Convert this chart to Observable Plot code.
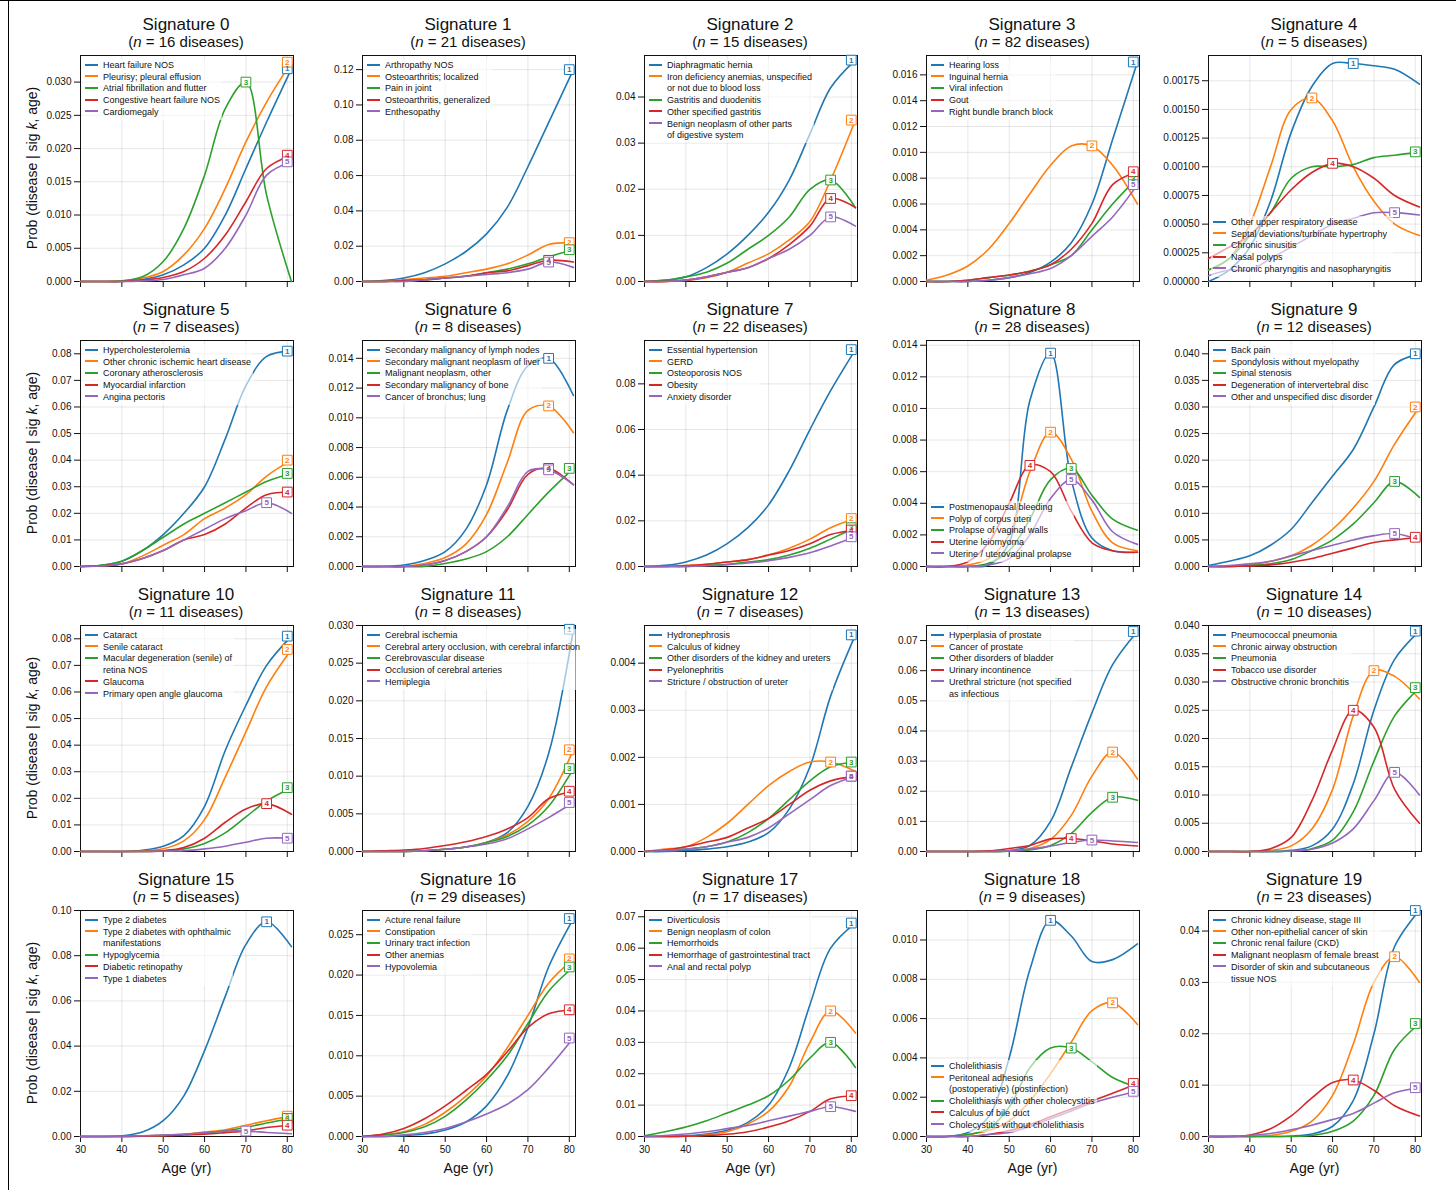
<!DOCTYPE html>
<html><head><meta charset="utf-8">
<script src="https://cdn.jsdelivr.net/npm/d3@7"></script>
<script src="https://cdn.jsdelivr.net/npm/@observablehq/plot@0.6"></script>
<style>
body{margin:0;background:#fff;font-family:"Liberation Sans",Arial,sans-serif;}
#root{position:relative;width:1456px;height:1196px;}
.t1{position:absolute;font-size:17px;text-align:center;width:260px;color:#111}
.t2{position:absolute;font-size:15px;text-align:center;width:260px;color:#111}
.lg{position:absolute;font-size:9px;line-height:11.7px;color:#111;background:rgba(255,255,255,0.6);white-space:pre;padding:1px 2px}
.lg span.sw{display:inline-block;width:13px;height:2px;margin-right:5px;vertical-align:middle;position:relative;top:-1px}
.yl{position:absolute;font-size:14px;transform:rotate(-90deg);transform-origin:center;width:240px;text-align:center;color:#111}
.xl{position:absolute;font-size:14px;width:213px;text-align:center;color:#111}
</style></head><body><div id="root"></div>
<script>
const ages=[30,35,40,45,50,55,60,65,70,75,81];
const colors=["#1f77b4","#ff7f0e","#2ca02c","#d62728","#9467bd"];
const nDiseases=[16,21,15,82,5,7,8,22,28,12,11,8,7,13,10,5,29,17,9,23];
const yMax=[0.034,0.128,0.049,0.0175,0.00197,0.085,0.0152,0.099,0.0143,0.0425,0.085,0.030,0.0048,0.075,0.040,0.100,0.028,0.072,0.0115,0.044];
const yStep=[0.005,0.02,0.01,0.002,0.00025,0.01,0.002,0.02,0.002,0.005,0.01,0.005,0.001,0.01,0.005,0.02,0.005,0.01,0.002,0.01];
const yDec=[3,2,2,3,5,2,3,2,3,3,2,3,3,2,3,2,3,2,3,2];
const legendBottom=[4,8,18];
const diseaseNames=[
["Heart failure NOS","Pleurisy; pleural effusion","Atrial fibrillation and flutter","Congestive heart failure NOS","Cardiomegaly"],
["Arthropathy NOS","Osteoarthritis; localized","Pain in joint","Osteoarthritis, generalized","Enthesopathy"],
["Diaphragmatic hernia","Iron deficiency anemias, unspecified\nor not due to blood loss","Gastritis and duodenitis","Other specified gastritis","Benign neoplasm of other parts\nof digestive system"],
["Hearing loss","Inguinal hernia","Viral infection","Gout","Right bundle branch block"],
["Other upper respiratory disease","Septal deviations/turbinate hypertrophy","Chronic sinusitis","Nasal polyps","Chronic pharyngitis and nasopharyngitis"],
["Hypercholesterolemia","Other chronic ischemic heart disease","Coronary atherosclerosis","Myocardial infarction","Angina pectoris"],
["Secondary malignancy of lymph nodes","Secondary malignant neoplasm of liver","Malignant neoplasm, other","Secondary malignancy of bone","Cancer of bronchus; lung"],
["Essential hypertension","GERD","Osteoporosis NOS","Obesity","Anxiety disorder"],
["Postmenopausal bleeding","Polyp of corpus uteri","Prolapse of vaginal walls","Uterine leiomyoma","Uterine / uterovaginal prolapse"],
["Back pain","Spondylosis without myelopathy","Spinal stenosis","Degeneration of intervertebral disc","Other and unspecified disc disorder"],
["Cataract","Senile cataract","Macular degeneration (senile) of\nretina NOS","Glaucoma","Primary open angle glaucoma"],
["Cerebral ischemia","Cerebral artery occlusion, with cerebral infarction","Cerebrovascular disease","Occlusion of cerebral arteries","Hemiplegia"],
["Hydronephrosis","Calculus of kidney","Other disorders of the kidney and ureters","Pyelonephritis","Stricture / obstruction of ureter"],
["Hyperplasia of prostate","Cancer of prostate","Other disorders of bladder","Urinary incontinence","Urethral stricture (not specified\nas infectious"],
["Pneumococcal pneumonia","Chronic airway obstruction","Pneumonia","Tobacco use disorder","Obstructive chronic bronchitis"],
["Type 2 diabetes","Type 2 diabetes with ophthalmic\nmanifestations","Hypoglycemia","Diabetic retinopathy","Type 1 diabetes"],
["Acture renal failure","Constipation","Urinary tract infection","Other anemias","Hypovolemia"],
["Diverticulosis","Benign neoplasm of colon","Hemorrhoids","Hemorrhage of gastrointestinal tract","Anal and rectal polyp"],
["Cholelithiasis","Peritoneal adhesions\n(postoperative) (postinfection)","Cholelithiasis with other cholecystitis","Calculus of bile duct","Cholecystitis without cholelithiasis"],
["Chronic kidney disease, stage III","Other non-epithelial cancer of skin","Chronic renal failure (CKD)","Malignant neoplasm of female breast","Disorder of skin and subcutaneous\ntissue NOS"]
];
const sigValues=[
[[0,0,0,0.0003,0.001,0.0025,0.005,0.010,0.017,0.024,0.032],[0,0,0.0001,0.0005,0.0015,0.004,0.008,0.014,0.021,0.027,0.033],[0,0,0.0001,0.0007,0.003,0.008,0.016,0.026,0.030,0.013,0.0],[0,0,0,0.0002,0.0006,0.0015,0.0035,0.007,0.012,0.017,0.019],[0,0,0,0.0001,0.0003,0.001,0.002,0.005,0.010,0.016,0.018]],
[[0,0.0005,0.002,0.005,0.01,0.017,0.027,0.042,0.065,0.09,0.12],[0,0,0.001,0.002,0.003,0.005,0.007,0.010,0.015,0.021,0.022],[0,0,0.0005,0.001,0.002,0.003,0.005,0.007,0.010,0.014,0.018],[0,0,0.0005,0.001,0.002,0.003,0.005,0.006,0.009,0.012,0.011],[0,0,0,0.001,0.002,0.003,0.004,0.005,0.007,0.011,0.008]],
[[0,0.0003,0.001,0.003,0.006,0.010,0.015,0.022,0.032,0.042,0.048],[0,0,0.0002,0.0008,0.002,0.004,0.006,0.009,0.013,0.022,0.035],[0,0.0002,0.001,0.002,0.004,0.007,0.010,0.014,0.020,0.022,0.016],[0,0,0.0003,0.001,0.002,0.003,0.005,0.008,0.012,0.018,0.016],[0,0,0.0003,0.001,0.002,0.003,0.005,0.007,0.010,0.014,0.012]],
[[0,0,0,0.0001,0.0003,0.0007,0.0015,0.003,0.006,0.011,0.017],[0.0001,0.0005,0.0012,0.0025,0.0045,0.0068,0.009,0.0105,0.0105,0.009,0.006],[0,0,0.0001,0.0003,0.0005,0.0008,0.0013,0.002,0.004,0.006,0.008],[0,0,0.0001,0.0003,0.0005,0.0008,0.0013,0.0025,0.0045,0.0075,0.0085],[0,0,0,0.0001,0.0003,0.0006,0.001,0.002,0.0035,0.005,0.0075]],
[[0,0.0001,0.0003,0.0007,0.0013,0.0017,0.0019,0.0019,0.00188,0.00185,0.00172],[0.0001,0.0002,0.0005,0.0010,0.0015,0.0016,0.0014,0.0010,0.0007,0.0005,0.0004],[0.0001,0.0002,0.0004,0.0006,0.0009,0.001,0.001,0.00102,0.00108,0.0011,0.00113],[0.0002,0.0003,0.0004,0.0006,0.0008,0.00095,0.00103,0.001,0.0009,0.00075,0.00065],[0.00005,0.0001,0.0001,0.0002,0.0003,0.0004,0.0005,0.00055,0.0006,0.0006,0.00058]],
[[0,0.0005,0.002,0.006,0.012,0.02,0.030,0.048,0.068,0.079,0.081],[0,0.0003,0.001,0.004,0.008,0.012,0.018,0.022,0.027,0.034,0.040],[0,0.0005,0.002,0.006,0.011,0.016,0.020,0.024,0.028,0.032,0.035],[0,0.0003,0.001,0.003,0.006,0.010,0.012,0.016,0.022,0.027,0.028],[0,0.0002,0.001,0.003,0.006,0.010,0.014,0.018,0.021,0.024,0.020]],
[[0,0,0.0001,0.0004,0.001,0.0025,0.0055,0.0105,0.0135,0.014,0.0115],[0,0,0,0.0002,0.0006,0.0015,0.0035,0.007,0.0105,0.0108,0.009],[0,0,0,0,0.0002,0.0005,0.001,0.002,0.0035,0.005,0.0066],[0,0,0,0.0001,0.0004,0.001,0.002,0.0038,0.0062,0.0066,0.0055],[0,0,0,0.0001,0.0004,0.001,0.002,0.004,0.0064,0.0065,0.0055]],
[[0,0.0005,0.002,0.005,0.01,0.017,0.027,0.042,0.06,0.077,0.095],[0,0,0.0005,0.001,0.002,0.003,0.005,0.008,0.012,0.017,0.021],[0,0,0,0.0005,0.001,0.002,0.003,0.005,0.008,0.012,0.017],[0,0,0.0003,0.001,0.002,0.003,0.005,0.007,0.010,0.014,0.016],[0,0,0,0.0003,0.0008,0.0015,0.0025,0.004,0.006,0.009,0.013]],
[[0,0,0,0.0001,0.0015,0.0105,0.0135,0.0055,0.0018,0.001,0.0009],[0,0,0.0001,0.0005,0.002,0.006,0.0085,0.0068,0.0035,0.0015,0.001],[0,0,0,0.0002,0.001,0.003,0.0055,0.0062,0.0045,0.0030,0.0023],[0,0,0.0003,0.0015,0.004,0.0064,0.006,0.0035,0.0015,0.001,0.0009],[0,0,0,0.0001,0.0005,0.002,0.0043,0.0055,0.0042,0.0022,0.0014]],
[[0.0002,0.001,0.002,0.004,0.007,0.012,0.017,0.022,0.030,0.038,0.040],[0,0,0.0003,0.001,0.002,0.004,0.007,0.011,0.016,0.023,0.030],[0,0,0.0002,0.0005,0.0013,0.003,0.005,0.008,0.012,0.016,0.013],[0,0,0.0001,0.0003,0.0008,0.0015,0.0025,0.0035,0.0045,0.005,0.0055],[0,0.0002,0.0005,0.001,0.002,0.003,0.004,0.005,0.0058,0.0062,0.005]],
[[0,0,0,0.0005,0.002,0.006,0.017,0.038,0.055,0.07,0.081],[0,0,0,0.0002,0.001,0.004,0.012,0.028,0.045,0.062,0.076],[0,0,0,0,0.0003,0.001,0.003,0.007,0.013,0.019,0.024],[0,0,0,0,0.0003,0.0015,0.005,0.011,0.016,0.018,0.014],[0,0,0,0,0.0001,0.0003,0.001,0.002,0.0035,0.005,0.005]],
[[0,0,0,0.0001,0.0003,0.0006,0.0012,0.0025,0.006,0.013,0.0295],[0,0,0,0.0001,0.0003,0.0006,0.0012,0.0022,0.004,0.007,0.0135],[0,0,0,0.0001,0.0003,0.0006,0.0012,0.002,0.0035,0.006,0.011],[0,0.0001,0.0002,0.0004,0.0008,0.0013,0.002,0.003,0.0045,0.007,0.008],[0,0,0,0.0001,0.0003,0.0006,0.001,0.0017,0.003,0.0045,0.0065]],
[[0,0,0.00002,0.00005,0.0001,0.0002,0.0004,0.0009,0.0018,0.0033,0.0046],[0,0.00005,0.0001,0.0003,0.0006,0.001,0.0014,0.0017,0.0019,0.0019,0.0017],[0,0.00002,0.00005,0.0001,0.0002,0.0004,0.0007,0.0011,0.0015,0.0018,0.0019],[0,0.00003,0.0001,0.0002,0.0003,0.0005,0.0007,0.001,0.0013,0.0015,0.0016],[0,0.00002,0.00005,0.0001,0.0002,0.0003,0.0005,0.0008,0.0011,0.0014,0.0016]],
[[0,0,0,0,0.0003,0.002,0.01,0.028,0.046,0.062,0.073],[0,0,0,0,0.0002,0.001,0.004,0.012,0.025,0.033,0.024],[0,0,0,0,0.0001,0.0005,0.002,0.006,0.013,0.018,0.017],[0,0,0,0.0002,0.001,0.002,0.0042,0.0043,0.0035,0.0025,0.0018],[0,0,0,0,0.0002,0.0008,0.0018,0.003,0.0038,0.0035,0.003]],
[[0,0,0,0,0.0002,0.001,0.004,0.012,0.025,0.034,0.039],[0,0,0,0.0002,0.001,0.004,0.011,0.024,0.032,0.031,0.027],[0,0,0,0,0.0001,0.0005,0.002,0.007,0.016,0.024,0.029],[0,0,0,0.0005,0.0025,0.009,0.018,0.025,0.022,0.011,0.005],[0,0,0,0,0.0001,0.0004,0.0015,0.004,0.009,0.014,0.010]],
[[0,0,0.0003,0.002,0.007,0.018,0.038,0.062,0.085,0.095,0.084],[0,0,0,0.0002,0.0005,0.001,0.002,0.003,0.005,0.007,0.009],[0,0,0,0.0002,0.0005,0.001,0.0015,0.0025,0.004,0.006,0.008],[0,0,0,0.0001,0.0003,0.0007,0.001,0.0017,0.0025,0.004,0.005],[0,0,0.0001,0.0003,0.0006,0.001,0.0017,0.0024,0.0024,0.0018,0.0012]],
[[0,0,0.0001,0.0003,0.0008,0.0018,0.0038,0.0075,0.0135,0.021,0.027],[0,0.0002,0.0006,0.0015,0.003,0.005,0.0075,0.011,0.015,0.019,0.022],[0,0.0002,0.0005,0.0012,0.0025,0.0045,0.007,0.010,0.014,0.018,0.021],[0,0.0003,0.001,0.0022,0.0038,0.0057,0.0077,0.0105,0.0135,0.0152,0.0157],[0,0,0.0002,0.0005,0.001,0.0018,0.0028,0.004,0.0058,0.0085,0.0122]],
[[0,0,0.0002,0.0008,0.002,0.0045,0.01,0.022,0.042,0.06,0.068],[0,0,0.0001,0.0005,0.0015,0.004,0.008,0.016,0.03,0.04,0.033],[0.0002,0.0015,0.003,0.005,0.0075,0.01,0.013,0.018,0.025,0.03,0.022],[0,0,0.0001,0.0003,0.0007,0.0015,0.003,0.005,0.008,0.012,0.013],[0,0.0003,0.0008,0.0015,0.0025,0.0035,0.005,0.0065,0.008,0.0095,0.008]],
[[0,0,0.0002,0.001,0.004,0.0085,0.011,0.0102,0.0089,0.009,0.0098],[0,0,0.0001,0.0003,0.0008,0.0018,0.0032,0.0048,0.0064,0.0068,0.0057],[0,0,0.0001,0.0004,0.0015,0.0035,0.0045,0.0045,0.0038,0.003,0.0025],[0,0,0,0.0001,0.0003,0.0006,0.001,0.0014,0.0018,0.0022,0.0027],[0,0,0,0.0001,0.0002,0.0005,0.0009,0.0013,0.0017,0.002,0.0023]],
[[0,0,0,0,0.0001,0.0005,0.002,0.007,0.02,0.037,0.044],[0,0,0,0.0002,0.001,0.003,0.008,0.018,0.03,0.035,0.03],[0,0,0,0,0,0.0002,0.001,0.003,0.008,0.017,0.022],[0,0,0.0003,0.0015,0.004,0.0075,0.0105,0.011,0.009,0.006,0.004],[0,0,0.0002,0.0006,0.0013,0.0022,0.0033,0.0045,0.0065,0.0085,0.0095]]
];
const xTicks=[30,40,50,60,70,80];

const root=document.getElementById("root");
function add(cls,html,left,top){const d=document.createElement("div");d.className=cls;d.innerHTML=html;d.style.left=left+"px";d.style.top=top+"px";root.appendChild(d);return d;}
const vl=document.createElement("div");vl.style.cssText="position:absolute;left:8px;top:0;width:1px;height:1190px;background:#000";root.appendChild(vl);
const hl=document.createElement("div");hl.style.cssText="position:absolute;left:0;top:0;width:1456px;height:1px;background:#000";root.appendChild(hl);

for(let k=0;k<20;k++){
  const c=k%5,r=Math.floor(k/5);
  const pl=80+282*c, pt=55+285*r;
  const rows=[];
  const labels=[];
  sigValues[k].forEach((vals,s)=>{
    let mi=0;
    vals.forEach((v,i)=>{rows.push({age:ages[i],p:v,s});if(v>=vals[mi])mi=i;});
    labels.push({age:Math.min(ages[mi],80),p:vals[mi],s,t:String(s+1)});
  });
  const ticks=d3.range(0,yMax[k]+1e-12,yStep[k]);
  const svg=Plot.plot({
    width:275,height:256,marginLeft:48,marginRight:14,marginTop:5,marginBottom:25,
    style:{fontSize:"10px",fontFamily:"Liberation Sans, Arial, sans-serif",color:"#111",background:"transparent"},
    x:{domain:[30,81.5],ticks:xTicks,label:null,grid:true,tickFormat:r===3?(d=>d):(()=>"")},
    y:{domain:[0,yMax[k]],ticks,label:null,grid:true,tickFormat:d3.format(`.${yDec[k]}f`)},
    marks:[
      Plot.frame({stroke:"#111"}),
      Plot.line(rows,{x:"age",y:"p",z:"s",stroke:d=>colors[d.s],strokeWidth:1.6,curve:"catmull-rom"}),
      Plot.dot(labels,{x:"age",y:"p",symbol:"square",r:5.5,fill:"white",stroke:d=>colors[d.s],strokeWidth:1}),
      Plot.text(labels,{x:"age",y:"p",text:"t",fill:d=>colors[d.s],fontSize:8,fontWeight:"bold"})
    ]
  });
  svg.style.position="absolute";svg.style.left=(pl-48)+"px";svg.style.top=(pt-5)+"px";
  root.appendChild(svg);
  add("t1","Signature "+k,pl+106-130,pt-40);
  add("t2","(<i>n</i> = "+nDiseases[k]+" diseases)",pl+106-130,pt-22);
  const lgHtml=diseaseNames[k].map((n,s)=>{
    const parts=n.split("\n");
    return `<span class="sw" style="background:${colors[s]}"></span>`+parts[0]+(parts[1]?"\n<span style='display:inline-block;width:18px'></span>"+parts[1]:"");
  }).join("\n");
  const lg=add("lg",lgHtml,pl+3,pt+4);
  if(legendBottom.includes(k)){lg.style.top=(pt+226-4-lg.offsetHeight)+"px";}
  if(c===0) add("yl","Prob (disease | sig <i>k</i>, age)",32-120,pt+105);
  if(r===3) add("xl","Age (yr)",pl,pt+250);
}
</script></body></html>
